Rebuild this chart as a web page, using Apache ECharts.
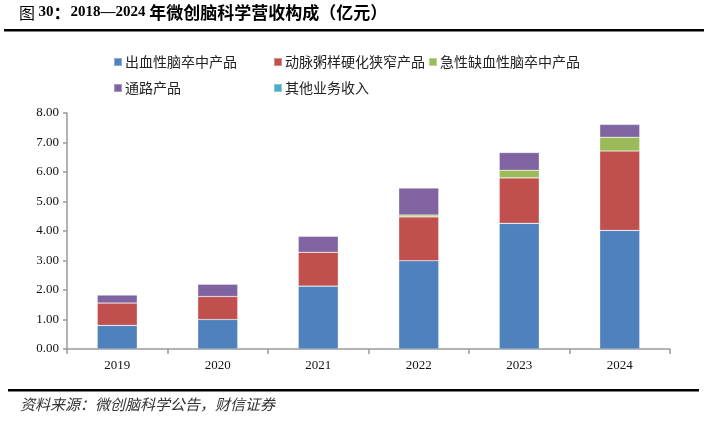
<!DOCTYPE html>
<html><head><meta charset="utf-8">
<script src="https://cdn.jsdelivr.net/npm/echarts@6/dist/echarts.min.js"></script>
<style>html,body{margin:0;padding:0;background:#fff}#c{width:710px;height:425px}</style>
</head><body><div id="c"></div>
<script>
const categories = ['2019','2020','2021','2022','2023','2024'];
const seriesNames = ['出血性脑卒中产品','动脉粥样硬化狭窄产品','急性缺血性脑卒中产品','通路产品','其他业务收入'];
const hemorrhagic = [0.80, 1.00, 2.13, 2.99, 4.26, 4.02];
const atherosclerotic = [0.76, 0.78, 1.15, 1.49, 1.54, 2.69];
const ischemic = [0, 0, 0, 0.06, 0.26, 0.47];
const access = [0.27, 0.42, 0.54, 0.92, 0.60, 0.43];
const other = [0.01, 0.01, 0.01, 0.01, 0.02, 0.03];
const yTicks = ['0.00','1.00','2.00','3.00','4.00','5.00','6.00','7.00','8.00'];
const colors = ['#4F81BD','#C0504D','#9BBB59','#8064A2','#4BACC6'];
const values = [hemorrhagic, atherosclerotic, ischemic, access, other];

const chart = echarts.init(document.getElementById('c'));
const serif = '"Liberation Serif","Times New Roman",serif';
const legendPos = [[108,50],[268,50],[423,50],[108,76],[268,76]];
const option = {
  animation:false,
  color: colors,
  legend: seriesNames.map((n,i)=>({
    data:[n], left:legendPos[i][0], top:legendPos[i][1],
    icon:'rect', itemWidth:8, itemHeight:8, itemGap:0,
    textStyle:{fontSize:14, color:'#222', fontFamily:'"Noto Sans CJK SC",sans-serif', padding:[0,0,0,-2]},
    selectedMode:false
  })),
  grid:{left:67, right:40, top:113, bottom:76},
  xAxis:{
    type:'category', data:categories,
    axisLine:{lineStyle:{color:'#9a9a9a', width:1.5}},
    axisTick:{show:true, length:5, lineStyle:{color:'#9a9a9a', width:1.5}},
    axisLabel:{fontFamily:serif, fontSize:13, color:'#111', margin:10}
  },
  yAxis:{
    type:'value', min:0, max:8, interval:1,
    axisLine:{show:true, lineStyle:{color:'#9a9a9a', width:1.5}},
    axisTick:{show:true, inside:false, length:4, lineStyle:{color:'#9a9a9a', width:1.5}},
    splitLine:{show:false},
    axisLabel:{fontFamily:serif, fontSize:13, color:'#111', margin:8,
      formatter:(v)=>yTicks[Math.round(v)]}
  },
  series: seriesNames.map((n,i)=>({
    name:n, type:'bar', stack:'total', barWidth:40,
    data: values[i],
    itemStyle:{color:colors[i], borderColor:'rgba(255,255,255,0.35)', borderWidth:0.6}
  })),
  graphic:[
    {type:'text', left:19, top:4, style:{
      text:'{a|图 }{b|30}{c|：}{b|2018—2024 }{c|年微创脑科学营收构成（亿元）}',
      rich:{
        a:{fontSize:16, fontFamily:'"Noto Sans CJK SC"', fill:'#000', fontWeight:'normal'},
        b:{fontSize:15, fontFamily:'"Liberation Serif"', fill:'#000', fontWeight:'bold'},
        c:{fontSize:17, fontFamily:'"Noto Sans CJK SC"', fill:'#000', fontWeight:'bold'}
      }}},
    {type:'rect', shape:{x:4, y:29, width:700, height:2.5}, style:{fill:'#000'}},
    {type:'rect', shape:{x:8, y:389, width:691, height:2.5}, style:{fill:'#000'}},
    {type:'text', left:20, top:397, style:{text:'资料来源：微创脑科学公告，财信证券', font:'italic 15px "Noto Sans CJK SC"', fill:'#333'}}
  ]
};
chart.setOption(option);
</script></body></html>
